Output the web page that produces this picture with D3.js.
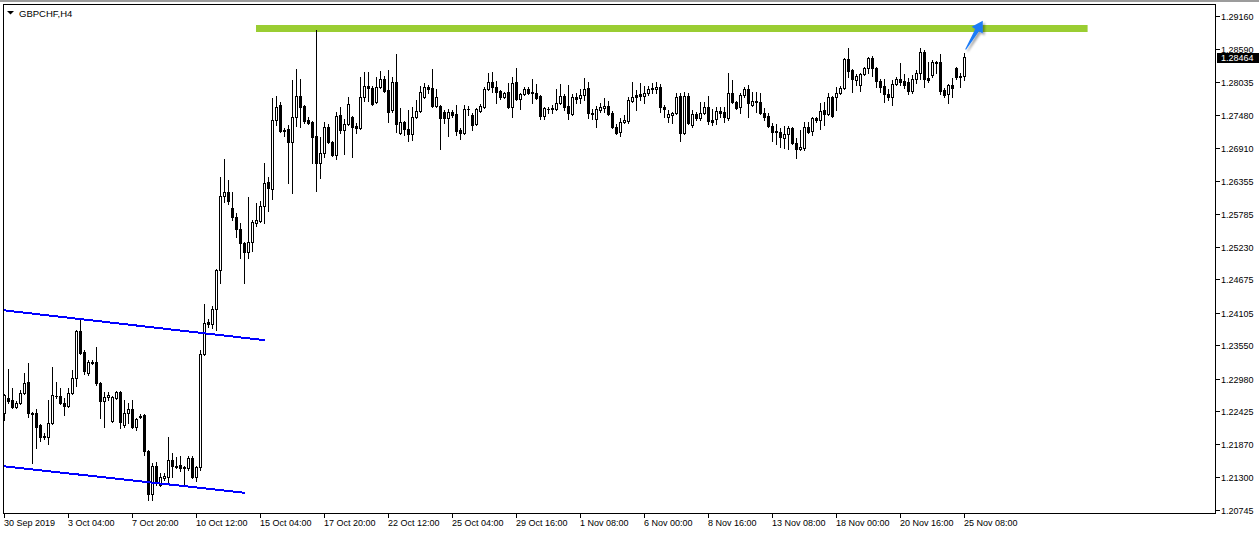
<!DOCTYPE html>
<html>
<head>
<meta charset="utf-8">
<script src="https://cdn.jsdelivr.net/npm/d3@7"></script>
<style>
  html, body { margin: 0; padding: 0; background: #ffffff; }
  svg { display: block; font-family: "Liberation Sans", Arial, sans-serif; }
</style>
</head>
<body>
<div id="chart"></div>
<script>
// Chart title shown in the top left corner.
var symbolName = "GBPCHF,H4";

// H4 candles, one row per bar: [open, high, low, close].
var candles = [
  [1.22398,1.22722,1.22279,1.22705],[1.22654,1.23148,1.22569,1.22603],[1.22620,1.22824,1.22484,1.22501],[1.22501,1.22603,1.22484,1.22569],
  [1.22569,1.22790,1.22552,1.22739],[1.22739,1.23080,1.22722,1.22909],[1.22926,1.23250,1.22330,1.22398],[1.22398,1.22415,1.21547,1.22381],
  [1.22398,1.22467,1.21802,1.22160],[1.22194,1.22211,1.21921,1.21990],[1.22007,1.22058,1.21956,1.21990],[1.21990,1.22620,1.21870,1.22228],
  [1.22228,1.23182,1.22211,1.22705],[1.22688,1.22926,1.22654,1.22695],[1.22688,1.22824,1.22552,1.22569],[1.22569,1.22654,1.22364,1.22518],
  [1.22518,1.22824,1.22501,1.22739],[1.22739,1.23131,1.22722,1.22994],[1.22994,1.23812,1.22858,1.23795],[1.23795,1.24016,1.23403,1.23420],
  [1.23437,1.23471,1.23063,1.23114],[1.23080,1.23301,1.23046,1.23267],[1.23267,1.23301,1.23233,1.23258],[1.23267,1.23522,1.22875,1.22909],
  [1.22909,1.22926,1.22313,1.22603],[1.22603,1.22756,1.22160,1.22671],[1.22671,1.22756,1.22620,1.22705],[1.22262,1.22688,1.22245,1.22671],
  [1.22654,1.22773,1.22637,1.22756],[1.22756,1.22773,1.22143,1.22245],[1.22194,1.22620,1.22160,1.22398],[1.22398,1.22569,1.22228,1.22467],
  [1.22467,1.22620,1.22143,1.22160],[1.22160,1.22313,1.22109,1.22296],[1.22330,1.22381,1.22313,1.22347],[1.22364,1.22381,1.21683,1.21751],
  [1.21751,1.21768,1.20916,1.21019],[1.21019,1.21547,1.20916,1.21496],[1.21496,1.21564,1.21172,1.21206],[1.21172,1.21376,1.21155,1.21308],
  [1.21291,1.21376,1.21257,1.21325],[1.21308,1.21990,1.21206,1.21598],[1.21598,1.21717,1.21308,1.21496],[1.21496,1.21649,1.21461,1.21479],
  [1.21513,1.21666,1.21410,1.21461],[1.21479,1.21496,1.21172,1.21461],[1.21461,1.21666,1.21427,1.21632],[1.21632,1.21666,1.21291,1.21308],
  [1.21308,1.21496,1.21240,1.21479],[1.21479,1.23471,1.21427,1.23403],[1.23403,1.24255,1.23386,1.23931],[1.23948,1.23999,1.23863,1.23914],
  [1.23914,1.24221,1.23846,1.24170],[1.24170,1.24851,1.23812,1.24834],[1.24834,1.26418,1.24613,1.26095],[1.26095,1.26725,1.25992,1.26163],
  [1.26163,1.26367,1.25958,1.26009],[1.25890,1.26163,1.25686,1.25737],[1.25737,1.25805,1.25396,1.25532],[1.25532,1.25635,1.25038,1.25294],
  [1.25294,1.25311,1.24613,1.25141],[1.25141,1.26078,1.25038,1.25311],[1.25311,1.25686,1.25158,1.25652],[1.25635,1.25975,1.25584,1.25686],
  [1.25669,1.26009,1.25652,1.25924],[1.25924,1.26657,1.25635,1.26316],[1.26333,1.26418,1.25839,1.26231],[1.26214,1.27764,1.26043,1.27389],
  [1.27389,1.27798,1.27304,1.27611],[1.27645,1.27696,1.27185,1.27202],[1.27219,1.27253,1.27117,1.27202],[1.27236,1.27304,1.26316,1.27014],
  [1.27014,1.28070,1.26146,1.27440],[1.27440,1.28258,1.27287,1.27798],[1.27798,1.28087,1.27270,1.27611],[1.27628,1.27645,1.27338,1.27372],
  [1.27389,1.27440,1.27321,1.27338],[1.27355,1.27372,1.26657,1.27099],[1.27117,1.28922,1.26180,1.26657],[1.26657,1.27099,1.26401,1.26827],
  [1.26827,1.27355,1.26759,1.27270],[1.27270,1.27321,1.26997,1.27014],[1.27014,1.27031,1.26776,1.26793],[1.26793,1.27525,1.26725,1.27457],
  [1.27474,1.27611,1.27168,1.27219],[1.27219,1.27406,1.26810,1.27321],[1.27321,1.27781,1.27304,1.27662],[1.27440,1.27457,1.26759,1.27270],
  [1.27287,1.27338,1.27168,1.27253],[1.27253,1.28121,1.27236,1.27781],[1.27781,1.28207,1.27713,1.27968],[1.27968,1.28207,1.27713,1.27934],
  [1.27934,1.27968,1.27645,1.27662],[1.27696,1.28121,1.27679,1.27951],[1.27951,1.28224,1.27934,1.28087],[1.28087,1.28138,1.27866,1.27883],
  [1.27900,1.28241,1.27355,1.27525],[1.27559,1.28121,1.27525,1.28036],[1.28036,1.28513,1.27185,1.27321],[1.27168,1.27594,1.27151,1.27355],
  [1.27355,1.27372,1.27134,1.27236],[1.27236,1.27559,1.27031,1.27151],[1.27151,1.27611,1.27048,1.27440],[1.27440,1.27730,1.27423,1.27542],
  [1.27542,1.27968,1.27525,1.27866],[1.27781,1.28019,1.27764,1.27951],[1.27951,1.27985,1.27849,1.27917],[1.27934,1.28258,1.27611,1.27628],
  [1.27628,1.27917,1.27611,1.27781],[1.27628,1.27645,1.26895,1.27423],[1.27525,1.27559,1.27338,1.27423],[1.27423,1.27576,1.27117,1.27525],
  [1.27525,1.27559,1.27440,1.27474],[1.27491,1.27645,1.27134,1.27202],[1.27219,1.27253,1.27065,1.27168],[1.27168,1.27645,1.27151,1.27576],
  [1.27576,1.27628,1.27474,1.27576],[1.27474,1.27508,1.27219,1.27304],[1.27321,1.27594,1.27304,1.27576],[1.27542,1.27662,1.27525,1.27628],
  [1.27611,1.27951,1.27594,1.27917],[1.27917,1.28190,1.27900,1.28036],[1.28036,1.28207,1.27866,1.27951],[1.27951,1.28053,1.27679,1.27866],
  [1.27883,1.27900,1.27747,1.27781],[1.27781,1.27866,1.27764,1.27849],[1.27866,1.28019,1.27594,1.27611],[1.27611,1.28121,1.27440,1.28019],
  [1.28036,1.28275,1.27730,1.27747],[1.27747,1.27849,1.27576,1.27832],[1.27832,1.27951,1.27815,1.27917],[1.27917,1.27951,1.27832,1.27849],
  [1.27866,1.28087,1.27679,1.27849],[1.27849,1.28002,1.27747,1.27764],[1.27798,1.27815,1.27406,1.27457],[1.27457,1.27611,1.27406,1.27594],
  [1.27576,1.27611,1.27508,1.27576],[1.27576,1.27645,1.27508,1.27594],[1.27576,1.27917,1.27559,1.27679],[1.27679,1.28002,1.27662,1.27798],
  [1.27798,1.27832,1.27559,1.27611],[1.27628,1.27985,1.27406,1.27508],[1.27491,1.27832,1.27474,1.27781],[1.27781,1.27849,1.27679,1.27747],
  [1.27764,1.27917,1.27679,1.27815],[1.27815,1.28104,1.27730,1.27917],[1.27934,1.28036,1.27423,1.27508],[1.27508,1.27576,1.27406,1.27491],
  [1.27406,1.27628,1.27270,1.27576],[1.27559,1.27679,1.27525,1.27611],[1.27594,1.27764,1.27525,1.27628],[1.27628,1.27713,1.27474,1.27491],
  [1.27508,1.27542,1.27253,1.27270],[1.27270,1.27321,1.27151,1.27168],[1.27185,1.27423,1.27117,1.27355],[1.27355,1.27474,1.27338,1.27389],
  [1.27372,1.27781,1.27338,1.27730],[1.27713,1.28036,1.27696,1.27781],[1.27815,1.27900,1.27559,1.27781],[1.27832,1.28019,1.27730,1.27798],
  [1.27798,1.27968,1.27679,1.27849],[1.27849,1.27968,1.27815,1.27917],[1.27917,1.28019,1.27849,1.27934],[1.27917,1.28036,1.27849,1.27951],
  [1.27951,1.28002,1.27525,1.27611],[1.27611,1.27645,1.27440,1.27576],[1.27440,1.27559,1.27355,1.27491],[1.27474,1.27525,1.27338,1.27508],
  [1.27508,1.27849,1.27491,1.27781],[1.27798,1.27849,1.27031,1.27168],[1.27168,1.27866,1.27151,1.27798],[1.27798,1.27849,1.27321,1.27338],
  [1.27304,1.27559,1.27270,1.27491],[1.27491,1.27525,1.27389,1.27423],[1.27423,1.27696,1.27389,1.27508],[1.27508,1.27696,1.27491,1.27611],
  [1.27611,1.27798,1.27321,1.27372],[1.27389,1.27576,1.27304,1.27355],[1.27406,1.27611,1.27321,1.27542],[1.27542,1.27611,1.27440,1.27508],
  [1.27525,1.27611,1.27355,1.27440],[1.27423,1.28190,1.27389,1.27849],[1.27849,1.28070,1.27679,1.27696],[1.27696,1.27713,1.27576,1.27594],
  [1.27611,1.27849,1.27508,1.27815],[1.27815,1.27951,1.27781,1.27917],[1.27917,1.27985,1.27440,1.27679],[1.27645,1.27866,1.27628,1.27713],
  [1.27713,1.27866,1.27525,1.27696],[1.27696,1.27849,1.27491,1.27508],[1.27508,1.27594,1.27389,1.27440],[1.27457,1.27508,1.27270,1.27287],
  [1.27287,1.27338,1.27031,1.27185],[1.27202,1.27321,1.26980,1.27185],[1.27185,1.27253,1.26929,1.27099],[1.27082,1.27287,1.26912,1.27151],
  [1.27151,1.27287,1.26895,1.27253],[1.27253,1.27270,1.26980,1.26997],[1.26997,1.27082,1.26742,1.26895],[1.26895,1.27219,1.26878,1.26929],
  [1.26912,1.27355,1.26878,1.27270],[1.27270,1.27355,1.27168,1.27185],[1.27202,1.27440,1.27134,1.27423],[1.27423,1.27440,1.27355,1.27389],
  [1.27389,1.27679,1.27236,1.27542],[1.27559,1.27696,1.27304,1.27491],[1.27491,1.27849,1.27474,1.27781],[1.27781,1.27798,1.27440,1.27457],
  [1.27781,1.27951,1.27559,1.27849],[1.27849,1.27968,1.27832,1.27934],[1.27934,1.28445,1.27917,1.28428],[1.28428,1.28615,1.28121,1.28224],
  [1.28241,1.28258,1.27866,1.28087],[1.28070,1.28173,1.27985,1.28138],[1.27985,1.28190,1.27883,1.28173],[1.28173,1.28292,1.28155,1.28275],
  [1.28275,1.28462,1.28190,1.28445],[1.28445,1.28479,1.28138,1.28275],[1.28275,1.28292,1.27951,1.28053],[1.28053,1.28087,1.27866,1.27951],
  [1.27968,1.28087,1.27696,1.27832],[1.27832,1.27917,1.27730,1.27781],[1.27781,1.28070,1.27645,1.28002],[1.28002,1.28121,1.27985,1.28087],
  [1.28087,1.28360,1.27985,1.28036],[1.28053,1.28173,1.27934,1.27985],[1.28036,1.28104,1.27832,1.27883],[1.27883,1.28155,1.27849,1.28087],
  [1.28087,1.28241,1.28019,1.28190],[1.28190,1.28615,1.28087,1.28547],[1.28547,1.28581,1.27951,1.28087],[1.28104,1.28377,1.28036,1.28070],
  [1.28155,1.28411,1.28121,1.28377],[1.28360,1.28394,1.28190,1.28377],[1.28377,1.28513,1.27832,1.27883],[1.27900,1.27934,1.27781,1.27815],
  [1.27832,1.28002,1.27679,1.27985],[1.27985,1.28104,1.27781,1.27934],[1.28275,1.28292,1.28087,1.28121],[1.28138,1.28190,1.27951,1.28121],
  [1.28138,1.28530,1.28070,1.28464]
];

// Last price shown in the black tag on the price scale.
var lastPrice = 1.28464;

// Price scale labels on the right.
var priceTicks = [1.29160, 1.28590, 1.28035, 1.27480, 1.26910, 1.26355, 1.25785, 1.25230,
                  1.24675, 1.24105, 1.23550, 1.22980, 1.22425, 1.21870, 1.21300, 1.20745];

// Time scale labels, one every 16 bars starting at the first bar.
var timeLabels = ["30 Sep 2019", "3 Oct 04:00", "7 Oct 20:00", "10 Oct 12:00", "15 Oct 04:00",
                  "17 Oct 20:00", "22 Oct 12:00", "25 Oct 04:00", "29 Oct 16:00", "1 Nov 08:00",
                  "6 Nov 00:00", "8 Nov 16:00", "13 Nov 08:00", "18 Nov 00:00", "20 Nov 16:00",
                  "25 Nov 08:00"];
var labelEvery = 16;

// Drawn objects: channel lines [bar, price] pairs, resistance level and the arrow.
var channelUpper = [[-0.25, 1.24149], [65.25, 1.23638]];
var channelLower = [[-0.25, 1.21492], [60.25, 1.21039]];
var resistance = {price: 1.28948, fromBar: 63, toBar: 270.9};
var arrowFrom = [240.4, 1.28590],
    arrowTo = [244.7, 1.29080];

// Size of the page and the chart frame.
var W = 1259, H = 534;
var frame = {left: 3, right: 1215, top: 4, bottom: 513};

var svg = d3.select("#chart")
    .append("svg")
        .attr("width", W)
        .attr("height", H);

svg.append("rect")
    .attr("width", W)
    .attr("height", H)
    .attr("fill", "#ffffff");

// Window edge at the very top.
svg.append("rect")
    .attr("width", W)
    .attr("height", 2)
    .attr("fill", "#9c9c9c");

// Bar index -> pixel column, price -> pixel row.
var x = d3.scaleLinear()
    .domain([0, 240])
    .range([4, 964]);

var y = d3.scaleLinear()
    .domain([1.20695, 1.29365])
    .range([frame.bottom, frame.top]);

// Clip everything drawn inside the frame.
svg.append("clipPath")
    .attr("id", "plot-clip")
  .append("rect")
    .attr("x", frame.left + 1)
    .attr("y", frame.top + 1)
    .attr("width", frame.right - frame.left - 1)
    .attr("height", frame.bottom - frame.top - 1);

var plot = svg.append("g")
    .attr("clip-path", "url(#plot-clip)");

// Resistance level (green thick line).
plot.append("line")
    .attr("x1", x(resistance.fromBar))
    .attr("x2", x(resistance.toBar))
    .attr("y1", y(resistance.price))
    .attr("y2", y(resistance.price))
    .attr("stroke", "#9acd32")
    .attr("stroke-width", 7);

// Candles: wick first, then the body on top.
var candleG = plot.selectAll("g.candle")
    .data(candles)
    .enter()
    .append("g")
        .attr("class", "candle")
        .attr("shape-rendering", "crispEdges");

candleG.append("line")
    .attr("x1", function(d, i){ return Math.round(x(i)) + 0.5; })
    .attr("x2", function(d, i){ return Math.round(x(i)) + 0.5; })
    .attr("y1", function(d){ return Math.round(y(d[1])); })
    .attr("y2", function(d){ return Math.round(y(d[2])) + 1; })
    .attr("stroke", "#000")
    .attr("stroke-width", 1);

candleG.each(function(d, i){
    var g = d3.select(this);
    var px = Math.round(x(i));
    var top = Math.round(y(Math.max(d[0], d[3])));
    var bot = Math.round(y(Math.min(d[0], d[3])));
    if (bot - top < 1) {
        // Doji: a short horizontal dash.
        g.append("line")
            .attr("x1", px - 1)
            .attr("x2", px + 2)
            .attr("y1", top + 0.5)
            .attr("y2", top + 0.5)
            .attr("stroke", "#000");
    } else {
        g.append("rect")
            .attr("x", px - 0.5)
            .attr("y", top + 0.5)
            .attr("width", 2)
            .attr("height", bot - top)
            .attr("fill", d[3] >= d[0] ? "#ffffff" : "#000000")
            .attr("stroke", "#000")
            .attr("stroke-width", 1);
    }
});

// Descending channel lines.
[channelUpper, channelLower].forEach(function(pts){
    plot.append("line")
        .attr("x1", x(pts[0][0]))
        .attr("y1", y(pts[0][1]))
        .attr("x2", x(pts[1][0]))
        .attr("y2", y(pts[1][1]))
        .attr("stroke", "#0000ff")
        .attr("stroke-width", 2)
        .attr("shape-rendering", "crispEdges");
});

// Blue arrow pointing at the resistance.
var defs = svg.append("defs");
var shadow = defs.append("filter")
    .attr("id", "arrow-shadow")
    .attr("x", "-50%").attr("y", "-50%")
    .attr("width", "200%").attr("height", "200%");
shadow.append("feDropShadow")
    .attr("dx", 2)
    .attr("dy", 2)
    .attr("stdDeviation", 1.3)
    .attr("flood-color", "#000")
    .attr("flood-opacity", 0.35);

(function(){
    var x0 = x(arrowFrom[0]), y0 = y(arrowFrom[1]);
    var x1 = x(arrowTo[0]), y1 = y(arrowTo[1]);
    var dx = x1 - x0, dy = y1 - y0, len = Math.sqrt(dx*dx + dy*dy);
    var ux = dx/len, uy = dy/len, nx = -uy, ny = ux;
    var head = 11, headW = 6.5, shaft = 2.2, tail = 0.5;
    var bx = x1 - ux*head, by = y1 - uy*head;
    var pts = [
        [x0 + nx*tail, y0 + ny*tail],
        [bx + nx*shaft, by + ny*shaft],
        [bx + nx*headW, by + ny*headW],
        [x1, y1],
        [bx - nx*headW, by - ny*headW],
        [bx - nx*shaft, by - ny*shaft],
        [x0 - nx*tail, y0 - ny*tail]
    ];
    svg.append("path")
        .attr("d", "M" + pts.map(function(p){ return p[0].toFixed(2) + "," + p[1].toFixed(2); }).join("L") + "Z")
        .attr("fill", "#1f7cf6")
        .attr("filter", "url(#arrow-shadow)");
})();

// Frame lines.
var frameG = svg.append("g")
    .attr("stroke", "#000")
    .attr("shape-rendering", "crispEdges");
frameG.append("line").attr("x1", frame.left).attr("x2", frame.right + 1)
    .attr("y1", frame.top + 0.5).attr("y2", frame.top + 0.5);
frameG.append("line").attr("x1", frame.left).attr("x2", frame.right + 1)
    .attr("y1", frame.bottom + 0.5).attr("y2", frame.bottom + 0.5);
frameG.append("line").attr("x1", frame.left + 0.5).attr("x2", frame.left + 0.5)
    .attr("y1", frame.top).attr("y2", frame.bottom + 1);
frameG.append("line").attr("x1", frame.right + 0.5).attr("x2", frame.right + 0.5)
    .attr("y1", frame.top).attr("y2", frame.bottom + 1);

// Taking care of the price scale.
var priceAxis = svg.append("g");
priceTicks.forEach(function(p){
    var py = Math.round(y(p));
    priceAxis.append("line")
        .attr("x1", frame.right + 1)
        .attr("x2", frame.right + 5)
        .attr("y1", py + 0.5)
        .attr("y2", py + 0.5)
        .attr("stroke", "#000")
        .attr("shape-rendering", "crispEdges");
    priceAxis.append("text")
        .attr("x", frame.right + 6)
        .attr("y", py + 3.5)
        .attr("font-size", "9px")
        .attr("fill", "#000")
        .text(d3.format(".5f")(p));
});

// Black tag with the last price.
var lastY = Math.round(y(lastPrice));
svg.append("rect")
    .attr("x", frame.right + 2)
    .attr("y", lastY - 4)
    .attr("width", W - frame.right - 2)
    .attr("height", 10)
    .attr("fill", "#000");
svg.append("text")
    .attr("x", frame.right + 6)
    .attr("y", lastY + 4)
    .attr("font-size", "9px")
    .attr("fill", "#fff")
    .text(d3.format(".5f")(lastPrice));

// Taking care of the time scale.
var timeAxis = svg.append("g");
timeLabels.forEach(function(label, k){
    var tx = Math.round(x(k * labelEvery));
    timeAxis.append("line")
        .attr("x1", tx + 0.5)
        .attr("x2", tx + 0.5)
        .attr("y1", frame.bottom + 1)
        .attr("y2", frame.bottom + 5)
        .attr("stroke", "#000")
        .attr("shape-rendering", "crispEdges");
    timeAxis.append("text")
        .attr("x", tx)
        .attr("y", frame.bottom + 13)
        .attr("font-size", "9px")
        .attr("fill", "#000")
        .text(label);
});

// Symbol name with the small menu triangle.
svg.append("path")
    .attr("d", "M7,11L14,11L10.5,14.5Z")
    .attr("fill", "#000");
svg.append("text")
    .attr("x", 19)
    .attr("y", 16.5)
    .attr("font-size", "9.5px")
    .attr("fill", "#000")
    .text(symbolName);
</script>
</body>
</html>
